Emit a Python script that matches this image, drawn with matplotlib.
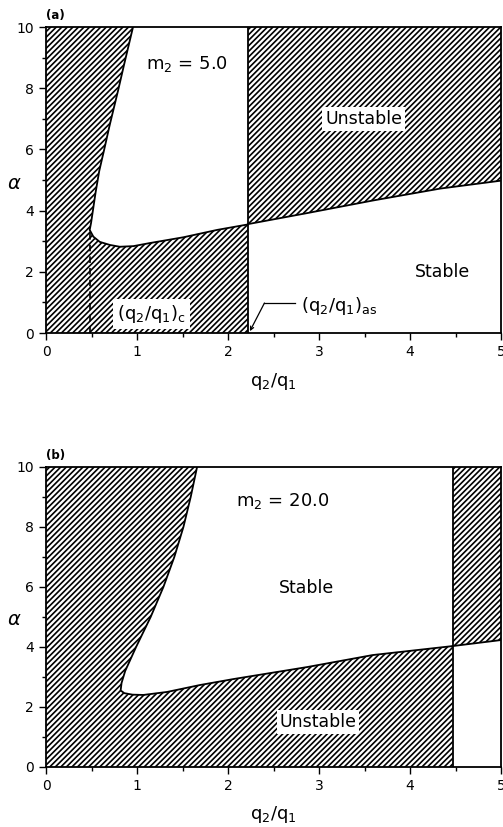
import numpy as np
import matplotlib
matplotlib.use('Agg')
import matplotlib.pyplot as plt

plt.rcParams['hatch.linewidth'] = 1.2
plt.rcParams['font.family'] = ['DejaVu Sans']

# panel (a): m2 = 5.0
a_bound_x = [0.956, 0.86, 0.793, 0.70, 0.638, 0.585, 0.545, 0.515, 0.495, 0.48, 0.52, 0.59, 0.70, 0.81, 0.96, 1.14, 1.51, 1.88, 2.22]
a_bound_y = [10.0, 8.8, 7.94, 6.8, 5.98, 5.3, 4.6, 4.0, 3.6, 3.37, 3.15, 2.98, 2.88, 2.82, 2.84, 2.94, 3.13, 3.37, 3.55]
a_upper_x = [2.22, 2.87, 3.59, 4.33, 5.0]
a_upper_y = [3.56, 3.92, 4.33, 4.72, 4.98]
a_qas = 2.22
a_qc = 0.48
a_qc_top = 3.37

# panel (b): m2 = 20.0
b_bound_x = [1.66, 1.59, 1.51, 1.41, 1.29, 1.15, 0.99, 0.87, 0.83, 0.82, 0.86, 0.95, 1.07, 1.33, 1.69, 2.06, 2.87, 3.59, 4.47]
b_bound_y = [10.0, 9.0, 8.0, 7.0, 6.0, 5.0, 4.0, 3.2, 2.8, 2.55, 2.46, 2.41, 2.4, 2.5, 2.73, 2.93, 3.33, 3.73, 4.03]
b_upper_x = [4.47, 5.0]
b_upper_y = [4.03, 4.23]
b_qas = 4.47

fig = plt.figure(figsize=(5.03, 8.27), dpi=100)
ax_a = fig.add_axes([0.0915, 0.5973, 0.9046, 0.370])
ax_b = fig.add_axes([0.0915, 0.0726, 0.9046, 0.3628])

lab = dict(fontsize=12.5, ha='center', va='center')
wbox = dict(facecolor='white', edgecolor='none', pad=2)
HATCH = '//////'


def panel(ax, bx, by, ux, uy, qas, tag, mlabel, mpos):
    bx = np.asarray(bx)
    by = np.asarray(by)
    # left / lower unstable region
    px = np.concatenate([[0, 0], bx, [qas, 0]])
    py = np.concatenate([[0, 10], by, [0, 0]])
    ax.fill(px, py, facecolor='white', edgecolor='k', hatch=HATCH, linewidth=0)
    # upper right unstable region
    ux = np.asarray(ux)
    uy = np.asarray(uy)
    qx = np.concatenate([ux, [5, qas]])
    qy = np.concatenate([uy, [10, 10]])
    ax.fill(qx, qy, facecolor='white', edgecolor='k', hatch=HATCH, linewidth=0)
    ax.plot(bx, by, color='k', lw=1.3)
    ax.plot(ux, uy, color='k', lw=1.3)
    ax.plot([qas, qas], [0, 10], color='k', lw=1.3)

    ax.set_xlim(0, 5)
    ax.set_ylim(0, 10)
    ax.set_xticks(range(6))
    ax.set_xticks(np.arange(0.5, 5, 1), minor=True)
    ax.set_yticks(range(0, 11, 2))
    ax.set_yticks(range(1, 10, 2), minor=True)
    ax.tick_params(which='major', direction='out', length=5, width=1, labelsize=10)
    ax.tick_params(which='minor', direction='out', length=3, width=1)
    for s in ax.spines.values():
        s.set_linewidth(1.3)
    ax.set_xlabel(r'q$_2$/q$_1$', fontsize=13)
    ax.xaxis.set_label_coords(0.5, -0.125)
    ax.set_ylabel(r'$\alpha$', fontsize=14, rotation=0, va='center')
    ax.yaxis.set_label_coords(-0.070, 0.49)
    ax.text(0.0, 1.015, tag, transform=ax.transAxes, fontsize=8.5,
            fontweight='bold', ha='left', va='bottom')
    ax.text(mpos[0], mpos[1], mlabel, fontsize=13, ha='center', va='center')


panel(ax_a, a_bound_x, a_bound_y, a_upper_x, a_upper_y, a_qas, '(a)',
      r'm$_2$ = 5.0', (1.55, 8.79))
ax_a.plot([a_qc, a_qc], [0, a_qc_top], color='k', lw=1.2, dashes=(4, 3))
ax_a.text(3.49, 6.99, 'Unstable', bbox=wbox, **lab)
ax_a.text(4.36, 2.0, 'Stable', **lab)
ax_a.text(0.78, 0.62, r'(q$_2$/q$_1$)$_\mathrm{c}$', fontsize=13, ha='left', va='center',
          bbox=dict(facecolor='white', edgecolor='none', pad=3))
ax_a.annotate('', xy=(a_qas + 0.02, 0.06), xytext=(2.40, 0.98),
              arrowprops=dict(arrowstyle='->,head_length=0.25,head_width=0.12', lw=0.9,
                              shrinkA=0, shrinkB=0))
ax_a.plot([2.40, 2.74], [0.98, 0.98], color='k', lw=0.9)
ax_a.text(2.80, 0.88, r'(q$_2$/q$_1$)$_\mathrm{as}$', fontsize=13, ha='left', va='center')

panel(ax_b, b_bound_x, b_bound_y, b_upper_x, b_upper_y, b_qas, '(b)',
      r'm$_2$ = 20.0', (2.6, 8.87))
ax_b.text(2.86, 5.97, 'Stable', **lab)
ax_b.text(2.99, 1.5, 'Unstable', bbox=wbox, **lab)

fig.savefig('out.png', dpi=100)
